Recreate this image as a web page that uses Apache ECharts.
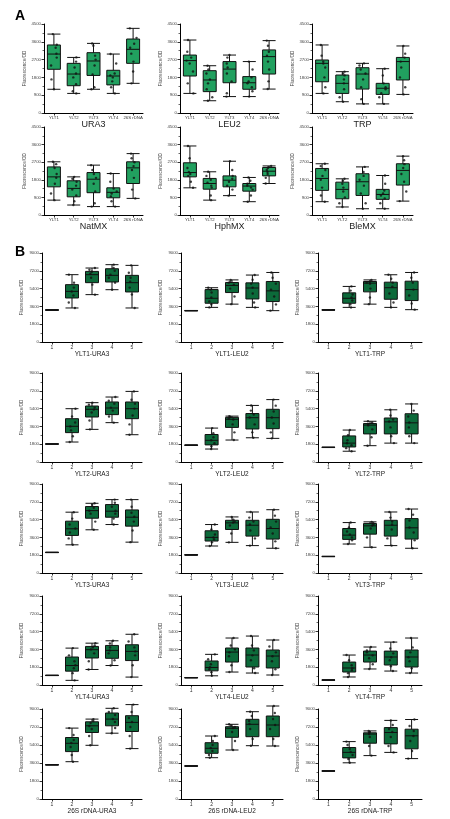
<!DOCTYPE html>
<html>
<head>
<meta charset="utf-8">
<script src="https://cdn.jsdelivr.net/npm/echarts@6/dist/echarts.min.js"></script>
<style>
html,body{margin:0;padding:0;background:#fff;}
#c{width:450px;height:819px;}
</style>
</head>
<body>
<div id="c"></div>
<script>
// ---------- categories / titles ----------
const catsA = ['YLT1', 'YLT2', 'YLT3', 'YLT4', '26S rDNA'];
const catsB = ['1', '2', '3', '4', '5'];
const titlesA = ['URA3', 'LEU2', 'TRP', 'NatMX', 'HphMX', 'BleMX'];
const titlesB = ['YLT1-URA3', 'YLT1-LEU2', 'YLT1-TRP',
                 'YLT2-URA3', 'YLT2-LEU2', 'YLT2-TRP',
                 'YLT3-URA3', 'YLT3-LEU2', 'YLT3-TRP',
                 'YLT4-URA3', 'YLT4-LEU2', 'YLT4-TRP',
                 '26S rDNA-URA3', '26S rDNA-LEU2', '26S rDNA-TRP'];
const yTicksA = [0, 900, 1800, 2700, 3600, 4500];
const yTicksB = [0, 1800, 3600, 5400, 7200, 9000];
const yName = 'Fluorescence/OD';

// ---------- panel A box values [min, Q1, median, Q3, max] ----------
const boxA_URA3  = [[1200,2210,2980,3440,3990],[990,1380,1970,2510,2810],[1200,1900,2630,3050,3520],[990,1420,1870,2160,2980],[1500,2510,3220,3740,4280]];
const boxA_LEU2  = [[990,1870,2650,2930,3690],[620,1080,1670,2140,2390],[830,1530,2220,2600,2930],[830,1200,1530,1840,2600],[1210,1970,2850,3190,3660]];
const boxA_TRP   = [[990,1580,2510,2680,3440],[570,990,1500,1920,2090],[460,1210,1970,2290,2510],[460,940,1250,1500,2240],[940,1670,2600,2810,3390]];
const boxA_NatMX = [[760,1440,1950,2460,2720],[510,930,1360,1750,1950],[430,1140,1830,2170,2550],[430,880,1160,1390,2120],[850,1610,2410,2720,3140]];
const boxA_HphMX = [[1390,1950,2170,2670,3530],[760,1320,1610,1870,2210],[990,1440,1780,2000,2750],[680,1220,1480,1610,1920],[1610,2000,2240,2430,2510]];
const boxA_BleMX = [[680,1260,1870,2380,2620],[410,830,1310,1680,1850],[320,1000,1700,2110,2460],[320,800,1050,1310,2020],[710,1530,2280,2620,3010]];

// ---------- panel A individual points ----------
const dotsA_URA3  = [[1200,1700,2400,2800,3000,3300,3450,3990],[990,1100,1450,1800,2000,2300,2600,2810],[1200,1300,1950,2400,2700,2900,3400,3520],[990,1300,1600,1800,1900,2000,2500,2980],[1500,2100,2600,3000,3300,3500,3800,4280]];
const dotsA_LEU2  = [[990,1500,2100,2500,2650,2800,3100,3690],[620,800,1200,1500,1700,2000,2200,2390],[830,1000,1600,2000,2300,2500,2800,2930],[830,1100,1300,1500,1600,1800,2200,2600],[1210,1600,2200,2600,2900,3100,3400,3660]];
const dotsA_TRP   = [[990,1300,1800,2300,2500,2600,2900,3440],[570,800,1200,1500,1700,1900,2000,2090],[460,700,1300,1700,2000,2200,2400,2510],[460,800,1000,1200,1300,1500,1900,2240],[940,1300,1800,2300,2600,2800,3000,3390]];
const dotsA_NatMX = [[760,1100,1600,1900,2100,2400,2600,2720],[510,700,1000,1300,1500,1700,1850,1950],[430,600,1200,1600,1900,2100,2300,2550],[430,700,950,1100,1200,1350,1700,2120],[850,1300,1900,2300,2500,2700,2900,3140]];
const dotsA_HphMX = [[1390,1700,2000,2100,2200,2400,2900,3530],[760,1000,1400,1500,1650,1800,2000,2210],[990,1300,1500,1700,1850,2000,2300,2750],[680,1000,1300,1400,1500,1600,1750,1920],[1610,1900,2100,2200,2300,2400,2450,2510]];
const dotsA_BleMX = [[680,1000,1400,1800,2000,2300,2500,2620],[410,600,900,1200,1400,1600,1750,1850],[320,600,1100,1500,1800,2000,2200,2460],[320,600,850,1000,1100,1250,1600,2020],[710,1200,1700,2100,2400,2600,2800,3010]];

// ---------- panel B box values [min, Q1, median, Q3, max] ----------
const boxB_YLT1_URA3 = [[3200,3220,3235,3250,3270],[3440,4450,5120,5800,6810],[4790,6000,6810,7140,7480],[5290,6070,6740,7410,7820],[3440,5060,6000,6740,7750]];
const boxB_YLT1_LEU2 = [[3150,3160,3170,3180,3190],[3500,3920,4420,5300,5490],[3830,5000,5720,6020,6280],[3500,4350,5460,5980,6770],[3170,4090,5170,6120,7030]];
const boxB_YLT1_TRP  = [[3220,3230,3240,3250,3260],[3500,3920,4420,4970,5620],[3830,5070,5950,6120,6280],[3500,4320,5490,6050,6800],[3270,4190,5300,6150,7030]];
const boxB_YLT2_URA3 = [[1800,1810,1820,1830,1840],[2020,2970,3610,4380,5390],[3300,4550,5330,5660,6000],[3980,4790,5460,6070,6570],[2760,4380,5390,6070,7140]];
const boxB_YLT2_LEU2 = [[1680,1690,1700,1710,1720],[1310,1730,2190,2780,3430],[2220,3500,4320,4510,4640],[2450,3340,4480,4900,5720],[2390,3370,4480,5330,6310]];
const boxB_YLT2_TRP  = [[1460,1470,1480,1490,1500],[1090,1520,1910,2640,3230],[1650,2840,3730,3890,4120],[1910,2840,4060,4450,5280],[1910,2840,3960,4880,5870]];
const boxB_YLT3_URA3 = [[2060,2070,2080,2090,2100],[2850,3800,4470,5240,6150],[4370,5540,6310,6720,7050],[4900,5640,6250,6920,7420],[3120,4740,5640,6380,7420]];
const boxB_YLT3_LEU2 = [[1810,1820,1830,1840,1850],[2730,3230,3600,4270,4900],[3100,4400,5070,5330,5670],[2770,3730,4830,5330,6170],[2500,3430,4500,5430,6400]];
const boxB_YLT3_TRP  = [[1650,1660,1670,1680,1690],[2930,3400,3830,4500,5100],[2600,3930,4770,5000,5170],[2770,3730,4830,5330,6170],[2500,3430,4570,5500,6470]];
const boxB_YLT4_URA3 = [[950,960,970,980,990],[470,1400,1970,2830,3730],[1570,2730,3570,3900,4230],[1970,2700,3500,4000,4470],[800,2470,3400,4070,5130]];
const boxB_YLT4_LEU2 = [[720,730,740,750,760],[930,1430,1770,2430,3100],[1310,2320,3330,3740,4750],[1210,1820,3030,3740,4950],[1010,1720,2930,3540,4550]];
const boxB_YLT4_TRP  = [[480,490,500,510,520],[810,1310,1720,2320,3030],[1620,2320,3030,3430,3840],[1410,2020,2830,3430,4340],[1210,1820,2830,3540,4750]];
const boxB_26S_URA3  = [[3400,3410,3420,3430,3440],[3730,4740,5570,6150,7090],[5370,6650,7320,7720,7990],[6580,7320,7990,8600,9070],[5040,6750,7660,8330,9440]];
const boxB_26S_LEU2  = [[3280,3290,3300,3310,3320],[4130,4570,5070,5630,6300],[4900,6170,7070,7230,7470],[5330,6230,7470,7970,8730],[5300,6230,7400,8300,9300]];
const boxB_26S_TRP   = [[2780,2790,2800,2810,2820],[3620,4110,4660,5150,5740],[4340,5580,6490,6620,6810],[4660,5510,6650,7140,7860],[4040,5020,6320,6980,7950]];

// ---------- panel B individual points ----------
const dotsB_YLT1_URA3 = [[],[3440,4000,4700,5100,5500,6000,6810],[4790,5800,6500,6900,7100,7300,7480],[5290,6000,6500,6800,7200,7500,7820],[3440,4800,5500,6100,6500,7000,7750]];
const dotsB_YLT1_LEU2 = [[],[3500,3800,4100,4500,5000,5300,5490],[3830,4600,5400,5800,6000,6100,6280],[3500,4000,4900,5500,5900,6300,6770],[3170,3800,4600,5300,5900,6500,7030]];
const dotsB_YLT1_TRP  = [[],[3500,3800,4200,4500,4800,5200,5620],[3830,4500,5400,5900,6000,6100,6280],[3500,4000,4900,5600,6000,6400,6800],[3270,3900,4700,5300,6000,6500,7030]];
const dotsB_YLT2_URA3 = [[],[2020,2600,3200,3600,4000,4600,5390],[3300,4200,5000,5300,5500,5800,6000],[3980,4600,5200,5500,5900,6200,6570],[2760,3800,4700,5400,5900,6300,7140]];
const dotsB_YLT2_LEU2 = [[],[1310,1600,1900,2200,2500,2900,3430],[2220,3000,3800,4300,4400,4550,4640],[2450,3000,3800,4500,4800,5200,5720],[2390,3000,3900,4500,5100,5700,6310]];
const dotsB_YLT2_TRP  = [[],[1090,1400,1700,1900,2200,2700,3230],[1650,2500,3300,3700,3800,4000,4120],[1910,2600,3500,4100,4300,4700,5280],[1910,2600,3500,4000,4600,5200,5870]];
const dotsB_YLT3_URA3 = [[],[2850,3500,4100,4500,4900,5500,6150],[4370,5200,6000,6300,6600,6900,7050],[4900,5500,6000,6300,6700,7100,7420],[3120,4300,5200,5700,6100,6700,7420]];
const dotsB_YLT3_LEU2 = [[],[2730,3100,3400,3600,3900,4400,4900],[3100,4000,4800,5100,5200,5400,5670],[2770,3500,4300,4900,5200,5600,6170],[2500,3200,4000,4600,5200,5800,6400]];
const dotsB_YLT3_TRP  = [[],[2930,3300,3600,3900,4200,4600,5100],[2600,3600,4500,4800,4900,5050,5170],[2770,3500,4400,4900,5200,5600,6170],[2500,3300,4100,4600,5300,5900,6470]];
const dotsB_YLT4_URA3 = [[],[470,1200,1700,2000,2400,3000,3730],[1570,2400,3200,3600,3800,4000,4230],[1970,2500,3200,3500,3800,4200,4470],[800,2000,3000,3400,3800,4400,5130]];
const dotsB_YLT4_LEU2 = [[],[930,1300,1600,1800,2100,2600,3100],[1310,2000,2900,3300,3600,4000,4750],[1210,1700,2500,3000,3500,4000,4950],[1010,1600,2400,2900,3300,3900,4550]];
const dotsB_YLT4_TRP  = [[],[810,1200,1500,1700,2000,2500,3030],[1620,2100,2700,3000,3300,3500,3840],[1410,1900,2500,2800,3200,3700,4340],[1210,1700,2400,2800,3300,3800,4750]];
const dotsB_26S_URA3  = [[],[3730,4400,5200,5600,5900,6400,7090],[5370,6300,7000,7300,7600,7800,7990],[6580,7100,7700,8000,8400,8700,9070],[5040,6300,7200,7700,8100,8700,9440]];
const dotsB_26S_LEU2  = [[],[4130,4400,4800,5100,5400,5800,6300],[4900,5800,6700,7100,7200,7350,7470],[5330,6000,7000,7500,7800,8300,8730],[5300,6000,7000,7400,8000,8600,9300]];
const dotsB_26S_TRP   = [[],[3620,4000,4400,4700,5000,5400,5740],[4340,5300,6200,6500,6600,6700,6810],[4660,5300,6200,6700,7000,7400,7860],[4040,4800,5800,6300,6800,7300,7950]];

// ---------- assemble ----------
const panelA = [
  [boxA_URA3, dotsA_URA3], [boxA_LEU2, dotsA_LEU2], [boxA_TRP, dotsA_TRP],
  [boxA_NatMX, dotsA_NatMX], [boxA_HphMX, dotsA_HphMX], [boxA_BleMX, dotsA_BleMX]
];
const panelB = [
  [boxB_YLT1_URA3, dotsB_YLT1_URA3], [boxB_YLT1_LEU2, dotsB_YLT1_LEU2], [boxB_YLT1_TRP, dotsB_YLT1_TRP],
  [boxB_YLT2_URA3, dotsB_YLT2_URA3], [boxB_YLT2_LEU2, dotsB_YLT2_LEU2], [boxB_YLT2_TRP, dotsB_YLT2_TRP],
  [boxB_YLT3_URA3, dotsB_YLT3_URA3], [boxB_YLT3_LEU2, dotsB_YLT3_LEU2], [boxB_YLT3_TRP, dotsB_YLT3_TRP],
  [boxB_YLT4_URA3, dotsB_YLT4_URA3], [boxB_YLT4_LEU2, dotsB_YLT4_LEU2], [boxB_YLT4_TRP, dotsB_YLT4_TRP],
  [boxB_26S_URA3, dotsB_26S_URA3], [boxB_26S_LEU2, dotsB_26S_LEU2], [boxB_26S_TRP, dotsB_26S_TRP]
];

// layout (pixels)
const colA = [{l:44,w:99},{l:180,w:99},{l:312,w:101}];
const rowA = [{t:24,h:89},{t:127,h:88}];
const colB = [{l:42,w:100},{l:181,w:102},{l:318,w:104}];
const rowB = [{t:253,h:89},{t:373,h:89},{t:484,h:89},{t:596,h:89},{t:709,h:90}];

const FONT = '"Liberation Sans", Arial, sans-serif';
const grid = [], xAxis = [], yAxis = [], series = [];

function addChart(pos, cats, title, box, dots, ticks, fill, isA) {
  const idx = grid.length;
  grid.push({left: pos.l, top: pos.t, width: pos.w, height: pos.h, containLabel: false});
  xAxis.push({
    type: 'category', gridIndex: idx, data: cats, boundaryGap: true,
    jitter: 7, jitterOverlap: true,
    axisLine: {show: true, lineStyle: {color: '#000', width: 1}},
    axisTick: {show: true, alignWithLabel: true, length: 2.5, lineStyle: {color: '#000', width: 0.8}},
    axisLabel: {interval: 0, fontSize: isA ? 4.3 : 5, color: '#333', margin: isA ? 2.5 : 3, fontFamily: FONT},
    splitLine: {show: false},
    name: title, nameLocation: 'middle', nameGap: isA ? 6 : 8,
    nameTextStyle: {fontSize: isA ? 9 : 6.5, color: '#222', fontFamily: FONT}
  });
  yAxis.push({
    type: 'value', gridIndex: idx, min: ticks[0], max: ticks[ticks.length - 1],
    interval: ticks[1] - ticks[0],
    axisLine: {show: true, lineStyle: {color: '#000', width: 1}},
    axisTick: {show: true, length: 2.5, lineStyle: {color: '#000', width: 0.8}},
    minorTick: {show: true, splitNumber: 2, length: 1.5, lineStyle: {color: '#000', width: 0.6}},
    axisLabel: {fontSize: 4.3, color: '#444', margin: 3, fontFamily: FONT, formatter: v => String(v)},
    splitLine: {show: false},
    name: yName, nameLocation: 'middle', nameGap: isA ? 16 : 18,
    nameTextStyle: {fontSize: 4.6, color: '#444', fontFamily: FONT}
  });
  series.push({
    type: 'boxplot', xAxisIndex: idx, yAxisIndex: idx,
    data: box, boxWidth: [12, 13], silent: true,
    itemStyle: {color: fill, borderColor: '#111', borderWidth: 1},
    emphasis: {disabled: true}
  });
  const pts = [];
  dots.forEach((arr, g) => arr.forEach(v => pts.push([g, v])));
  series.push({
    type: 'scatter', xAxisIndex: idx, yAxisIndex: idx,
    data: pts, symbolSize: 2.4, clip: false, silent: true,
    itemStyle: {color: '#111'}, z: 5
  });
}

panelA.forEach((d, i) => {
  const r = Math.floor(i / 3), c = i % 3;
  addChart({l: colA[c].l, w: colA[c].w, t: rowA[r].t, h: rowA[r].h},
           catsA, titlesA[i], d[0], d[1], yTicksA, '#21a05f', true);
});
panelB.forEach((d, i) => {
  const r = Math.floor(i / 3), c = i % 3;
  addChart({l: colB[c].l, w: colB[c].w, t: rowB[r].t, h: rowB[r].h},
           catsB, titlesB[i], d[0], d[1], yTicksB, '#0c6a3a', false);
});

const chart = echarts.init(document.getElementById('c'), null, {renderer: 'canvas'});
chart.setOption({
  backgroundColor: '#fff',
  animation: false,
  textStyle: {fontFamily: FONT},
  grid, xAxis, yAxis, series,
  graphic: [
    {type: 'text', left: 15, top: 9, style: {text: 'A', font: 'bold 14px ' + FONT, fill: '#000'}},
    {type: 'text', left: 15, top: 245, style: {text: 'B', font: 'bold 14px ' + FONT, fill: '#000'}}
  ]
});
</script>
</body>
</html>
